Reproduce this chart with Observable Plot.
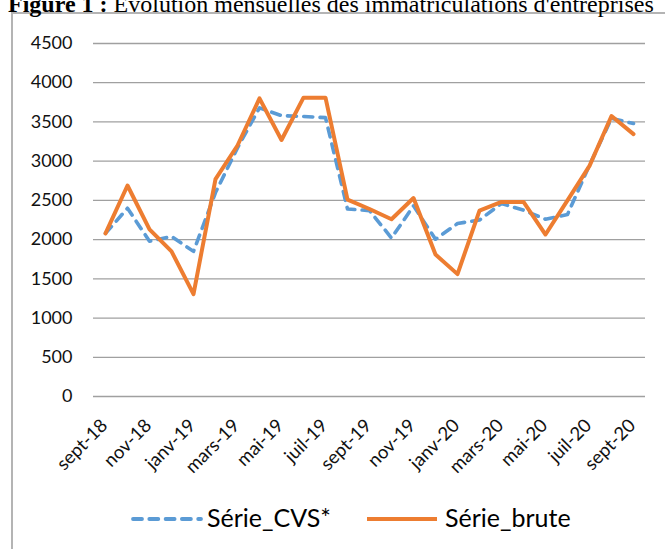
<!DOCTYPE html>
<html><head><meta charset="utf-8">
<script src="https://cdn.jsdelivr.net/npm/d3@7"></script>
<script src="https://cdn.jsdelivr.net/npm/@observablehq/plot@0.6"></script>
<style>
body{margin:0;background:#fff;}
#wrap{position:relative;width:665px;height:549px;overflow:hidden;background:#fff;}
#frame{position:absolute;left:11px;top:12px;width:720px;height:620px;border-left:2px solid #b4b4b4;border-top:2px solid #b4b4b4;}
#title{position:absolute;left:8px;top:-8px;font-family:"Liberation Serif","Times New Roman",serif;font-size:24px;line-height:24px;white-space:nowrap;color:#000;}
#chart{position:absolute;left:0;top:0;}
.leg{position:absolute;font-family:Lato,sans-serif;font-size:25px;line-height:25px;white-space:nowrap;color:#000;}
.sw{position:absolute;}
</style>
</head><body>
<div id="wrap">
  <div id="frame"></div>
  <div id="chart"></div>
  <div id="title"><b>Figure 1 :</b> Évolution mensuelles des immatriculations d'entreprises</div>
  <svg class="sw" style="left:125px;top:509px" width="82" height="20"><line x1="8" x2="76" y1="10" y2="10" stroke="#5B9BD5" stroke-width="3.8" stroke-dasharray="9,7.3" stroke-linecap="round"/></svg>
  <div class="leg" style="left:207px;top:505px">Série_CVS*</div>
  <svg class="sw" style="left:360px;top:509px" width="84" height="20"><line x1="7" x2="77" y1="10" y2="10" stroke="#ED7D31" stroke-width="4"/></svg>
  <div class="leg" style="left:445px;top:505px">Série_brute</div>
</div>
<script>
const months = ["sept-18","oct-18","nov-18","déc-18","janv-19","févr-19","mars-19","avr-19","mai-19","juin-19","juil-19","août-19","sept-19","oct-19","nov-19","déc-19","janv-20","févr-20","mars-20","avr-20","mai-20","juin-20","juil-20","août-20","sept-20"];
const serieCVS = [2080, 2400, 1980, 2040, 1850, 2600, 3170, 3680, 3580, 3570, 3555, 2390, 2370, 2020, 2430, 2005, 2205, 2250, 2460, 2375, 2260, 2320, 2950, 3545, 3480];
const serieBrute = [2080, 2690, 2130, 1850, 1305, 2770, 3200, 3800, 3270, 3810, 3810, 2510, 2390, 2260, 2530, 1810, 1560, 2370, 2480, 2480, 2065, 2500, 2940, 3575, 3345];
const xTickLabels = ["sept-18","nov-18","janv-19","mars-19","mai-19","juil-19","sept-19","nov-19","janv-20","mars-20","mai-20","juil-20","sept-20"];
const yTicks = [0, 500, 1000, 1500, 2000, 2500, 3000, 3500, 4000, 4500];

const idx = months.map((m, i) => i);
const chart = Plot.plot({
  width: 665,
  height: 549,
  marginLeft: 93,
  marginRight: 20,
  marginTop: 43,
  marginBottom: 153,
  style: {background: "transparent", fontFamily: "Lato, sans-serif"},
  x: {type: "point", domain: months, padding: 0.5, axis: null},
  y: {domain: [0, 4500], axis: null},
  marks: [
    Plot.gridY(yTicks, {stroke: "#a0a0a0", strokeOpacity: 1, strokeWidth: 1.3}),
    Plot.text(yTicks, {x: null, y: d => d, text: d => String(d), frameAnchor: "left", textAnchor: "end", dx: -21, fontSize: 18, fill: "#111"}),
    Plot.text(xTickLabels, {x: d => d, frameAnchor: "bottom", text: d => d, rotate: -45, textAnchor: "end", lineAnchor: "middle", dy: 26, dx: -1, fontSize: 18.5, fill: "#111"}),
    Plot.line(idx, {x: i => months[i], y: i => serieCVS[i], stroke: "#5B9BD5", strokeWidth: 3.6, strokeDasharray: "9,7.3", strokeLinecap: "round", strokeLinejoin: "round"}),
    Plot.line(idx, {x: i => months[i], y: i => serieBrute[i], stroke: "#ED7D31", strokeWidth: 4, strokeLinejoin: "round"})
  ]
});
document.getElementById("chart").appendChild(chart);
</script>
</body></html>
